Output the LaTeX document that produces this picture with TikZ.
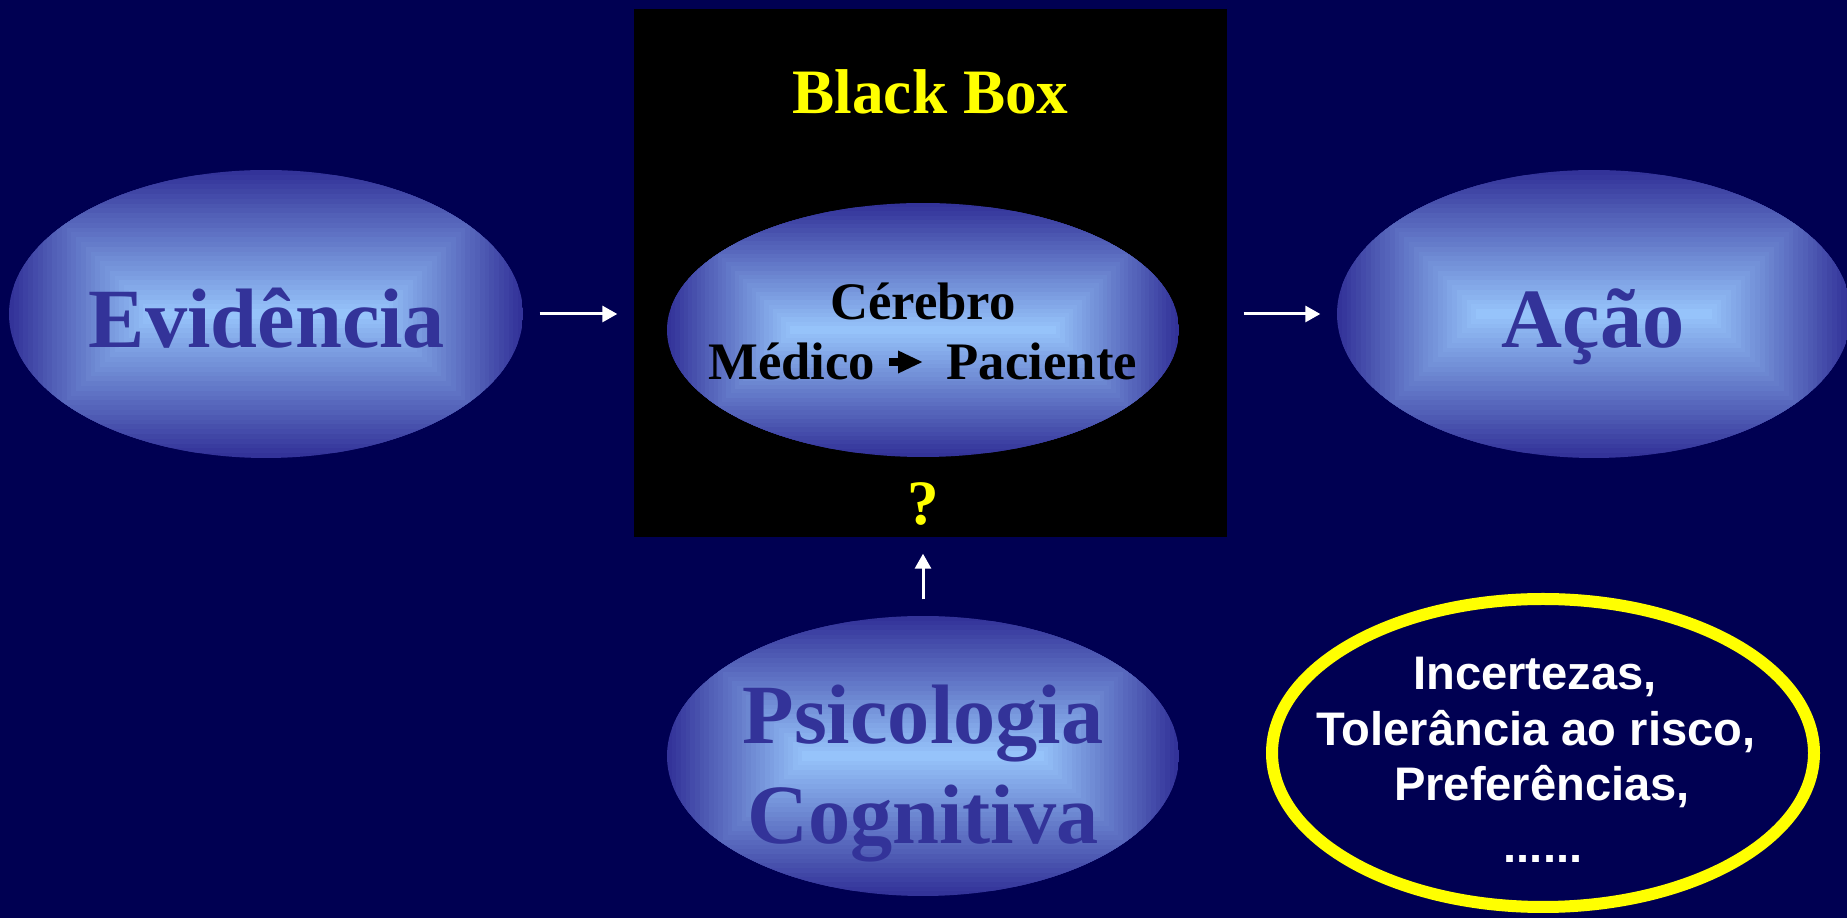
\documentclass[tikz,border=0pt]{standalone}
\usepackage{fontspec}
\setmainfont{Liberation Serif}
\newfontfamily\sansfnt{Liberation Sans}
\usetikzlibrary{shapes.geometric,arrows.meta,calc}
\definecolor{navy}{RGB}{0,0,82}
\definecolor{blobout}{RGB}{51,51,153}
\definecolor{blobin}{RGB}{150,195,250}
\definecolor{blobtext}{RGB}{51,51,153}
\definecolor{marker}{RGB}{255,255,0}
\tikzset{
  blob/.style 2 args={ellipse,minimum width=#1,minimum height=#2,inner sep=0pt,
    path picture={
      \foreach \k in {0,...,29}{
        \pgfmathsetmacro\bandinset{\k*(#2)/60}
        \pgfmathtruncatemacro\bandmix{\k*100/29}
        \fill[blobin!\bandmix!blobout]
          ($(path picture bounding box.south west)+(\bandinset pt,\bandinset pt)$) rectangle
          ($(path picture bounding box.north east)-(\bandinset pt,\bandinset pt)$);
      }}},
  bigword/.style={font=\fontsize{24}{28}\selectfont\bfseries,text=blobtext,anchor=base,inner sep=0pt},
  midword/.style={font=\fontsize{15}{18}\selectfont\bfseries,text=black,inner sep=0pt},
  boxword/.style={font=\fontsize{18}{22}\selectfont\bfseries,text=marker,anchor=base,inner sep=0pt},
  listword/.style={font=\sansfnt\fontsize{13.4}{16}\selectfont\bfseries,text=white,anchor=base,inner sep=0pt},
  flow/.style={draw=white,line width=0.3mm,-{Triangle[length=1.5mm,width=1.6mm]},shorten <=1.6mm,shorten >=1.6mm},
  fat/.style={draw=black,line width=0.75mm,-{Triangle[length=2.5mm,width=2.1mm]},shorten <=1.3mm,shorten >=2.3mm}
}
\begin{document}
\begin{tikzpicture}
    \useasboundingbox (0,0) rectangle (18.47,9.18);
    \fill[navy] (0,0) rectangle (18.47,9.18);
    \node[fill=black,inner sep=0pt,minimum width=5.93cm,minimum height=5.28cm] (bbox) at (9.305,6.45) {};
    \node[blob={5.14cm}{2.88cm}] (evid) at (2.66,6.04) {};
    \node[blob={5.14cm}{2.88cm}] (acao) at (15.94,6.04) {};
    \node[blob={5.12cm}{2.54cm}] (brain) at (9.23,5.88) {};
    \node[blob={5.12cm}{2.80cm}] (psico) at (9.23,1.62) {};
    \node[ellipse,draw=marker,line width=1.2mm,minimum width=5.42cm,minimum height=3.08cm] (extra) at (15.43,1.65) {};

    \node[bigword] (tevid) at (2.67,5.70) {Evidência};
    \node[bigword] (tacao) at (15.93,5.70) {Ação};
    \node[bigword] (tpsico) at (9.23,1.74) {Psicologia};
    \node[bigword] (tcogn) at (9.23,0.74) {Cognitiva};
    \node[boxword] (tblack) at (9.305,8.04) {Black Box};
    \node[boxword] (tquery) at (9.23,3.93) {?};
    \node[midword,anchor=base] (tcerebro) at (9.23,5.98) {Cérebro};
    \node[midword,anchor=base east] (medico) at (8.76,5.38) {Médico};
    \node[midword,anchor=base west] (paciente) at (9.46,5.38) {Paciente};
    \node[listword] (tinc) at (15.35,2.28) {Incertezas,};
    \node[listword] (ttol) at (15.36,1.72) {Tolerância ao risco,};
    \node[listword] (tpref) at (15.42,1.17) {Preferências,};
    \node[listword] (tdots) at (15.43,0.55) {......};

    \draw[fat] ([yshift=1.8mm]medico.base east) -- ([yshift=1.8mm]paciente.base west);
    \draw[flow] (evid.east) -- (evid.east -| bbox.west);
    \draw[flow] (bbox.east |- acao.west) -- (acao.west);
    \draw[flow] (psico.north) -- (psico.north |- bbox.south);
\end{tikzpicture}
\end{document}
